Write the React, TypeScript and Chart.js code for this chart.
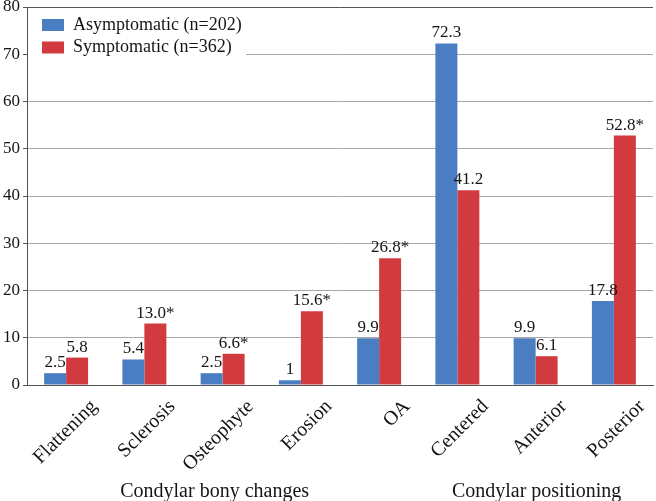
import React, { useEffect, useRef } from 'react';
import { Chart, registerables } from 'chart.js';

Chart.register(...registerables);

const categories = ['Flattening', 'Sclerosis', 'Osteophyte', 'Erosion', 'OA', 'Centered', 'Anterior', 'Posterior'];
const asymptomatic = [2.5, 5.4, 2.5, 1, 9.9, 72.3, 9.9, 17.8];
const symptomatic = [5.8, 13.0, 6.6, 15.6, 26.8, 41.2, 6.1, 52.8];
const asymptomaticLabels = ['2.5', '5.4', '2.5', '1', '9.9', '72.3', '9.9', '17.8'];
const symptomaticLabels = ['5.8', '13.0*', '6.6*', '15.6*', '26.8*', '41.2', '6.1', '52.8*'];
const seriesNames = ['Asymptomatic (n=202)', 'Symptomatic (n=362)'];
const seriesColors = ['#4a7dc2', '#d13b3f'];
const groupNames = ['Condylar bony changes', 'Condylar positioning'];
const groupStart = [0, 5];
const groupEnd = [4, 7];
const yMin = 0;
const yMax = 80;
const yStep = 10;

const FONT = "'Liberation Serif', 'Times New Roman', serif";
const TEXT = '#151515';

const valueLabelPlugin = {
  id: 'valueLabels',
  afterDatasetsDraw(chart: any) {
    const ctx = chart.ctx;
    const labelSets = [asymptomaticLabels, symptomaticLabels];
    ctx.save();
    ctx.font = `17px ${FONT}`;
    ctx.fillStyle = TEXT;
    ctx.textAlign = 'center';
    ctx.textBaseline = 'alphabetic';
    chart.data.datasets.forEach((_: any, i: number) => {
      const meta = chart.getDatasetMeta(i);
      meta.data.forEach((bar: any, j: number) => {
        ctx.fillText(labelSets[i][j], bar.x, bar.y - 6);
      });
    });
    ctx.restore();
  },
};

const legendPlugin = {
  id: 'insideLegend',
  afterDatasetsDraw(chart: any) {
    const ctx = chart.ctx;
    const area = chart.chartArea;
    const x0 = area.left + 15;
    const y0 = area.top + 12;
    ctx.save();
    ctx.fillStyle = '#ffffff';
    ctx.fillRect(area.left + 1, area.top + 3, 218, 52);
    ctx.font = `18px ${FONT}`;
    ctx.textAlign = 'left';
    ctx.textBaseline = 'middle';
    seriesNames.forEach((name, i) => {
      const y = y0 + i * 22.5;
      ctx.fillStyle = seriesColors[i];
      ctx.fillRect(x0, y, 22, 12);
      ctx.fillStyle = TEXT;
      ctx.fillText(name, x0 + 31, y + 6);
    });
    ctx.restore();
  },
};

const groupLabelPlugin = {
  id: 'groupLabels',
  afterDraw(chart: any) {
    const ctx = chart.ctx;
    const xs = chart.scales.x;
    ctx.save();
    ctx.font = `20px ${FONT}`;
    ctx.fillStyle = TEXT;
    ctx.textAlign = 'center';
    ctx.textBaseline = 'middle';
    groupNames.forEach((name, i) => {
      const a = xs.getPixelForValue(groupStart[i]);
      const b = xs.getPixelForValue(groupEnd[i]);
      const shift = i === 0 ? -8 : 1;
      ctx.fillText(name, (a + b) / 2 + shift, chart.height - 9);
    });
    ctx.restore();
  },
};

export default function App() {
  const canvasRef = useRef<HTMLCanvasElement | null>(null);

  useEffect(() => {
    document.body.style.margin = '0';
    const canvas = canvasRef.current;
    if (!canvas) return;
    const chart = new Chart(canvas, {
      type: 'bar',
      data: {
        labels: categories,
        datasets: [
          {
            label: seriesNames[0],
            data: asymptomatic,
            backgroundColor: seriesColors[0],
            categoryPercentage: 0.562,
            barPercentage: 1,
          },
          {
            label: seriesNames[1],
            data: symptomatic,
            backgroundColor: seriesColors[1],
            categoryPercentage: 0.562,
            barPercentage: 1,
          },
        ],
      },
      options: {
        responsive: false,
        animation: false,
        devicePixelRatio: 1,
        layout: { padding: { top: 7, right: 3, left: 0, bottom: 0 } },
        plugins: {
          legend: { display: false },
          tooltip: { enabled: false },
        },
        scales: {
          x: {
            grid: { display: false },
            border: { display: true, color: '#555', width: 1 },
            ticks: {
              autoSkip: false,
              minRotation: 45,
              maxRotation: 45,
              labelOffset: 28,
              padding: 2,
              color: TEXT,
              font: { family: FONT, size: 20 },
            },
            afterFit(scale: any) {
              scale.height = 116;
              scale.paddingLeft = 0;
              scale.paddingRight = 0;
            },
          },
          y: {
            min: yMin,
            max: yMax,
            ticks: {
              stepSize: yStep,
              padding: 3,
              color: TEXT,
              font: { family: FONT, size: 17 },
            },
            grid: {
              color: (c: any) => (c.tick && (c.tick.value === yMin || c.tick.value === yMax) ? '#555' : '#a8a8a8'),
              tickColor: '#555',
              tickLength: 4,
              lineWidth: 1,
            },
            border: { display: true, color: '#555', width: 1 },
            afterFit(scale: any) {
              scale.width = 27;
              scale.paddingTop = 0;
              scale.paddingBottom = 0;
            },
          },
        },
      },
      plugins: [valueLabelPlugin, legendPlugin, groupLabelPlugin],
    });
    return () => chart.destroy();
  }, []);

  return (
    <div style={{ position: 'fixed', left: 0, top: 0, width: 656, height: 501 }}>
      <canvas ref={canvasRef} width={656} height={501} style={{ width: 656, height: 501 }} />
    </div>
  );
}
